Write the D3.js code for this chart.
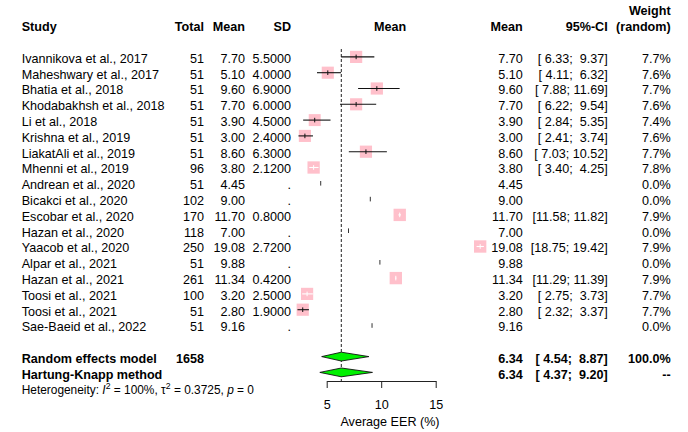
<!DOCTYPE html>
<html>
<head>
<meta charset="utf-8">
<script src="https://cdn.jsdelivr.net/npm/d3@7/dist/d3.min.js"></script>
<style>
  html, body { margin: 0; padding: 0; background: #fff; }
  svg text { font-family: "Liberation Sans", Arial, sans-serif; fill: #000; white-space: pre; }
</style>
</head>
<body>
<svg id="chart" width="688" height="432"></svg>
<script>
// Study-level data of the meta-analysis of average EER (%)
const studies = [
  "Ivannikova et al., 2017", "Maheshwary et al., 2017", "Bhatia et al., 2018",
  "Khodabakhsh et al., 2018", "Li et al., 2018", "Krishna et al., 2019",
  "LiakatAli et al., 2019", "Mhenni et al., 2019", "Andrean et al., 2020",
  "Bicakci et al., 2020", "Escobar et al., 2020", "Hazan et al., 2020",
  "Yaacob et al., 2020", "Alpar et al., 2021", "Hazan et al., 2021",
  "Toosi et al., 2021", "Toosi et al., 2021", "Sae-Baeid et al., 2022"
];
const totals = [51, 51, 51, 51, 51, 51, 51, 96, 51, 102, 170, 118, 250, 51, 261, 100, 51, 51];
const means = [7.70, 5.10, 9.60, 7.70, 3.90, 3.00, 8.60, 3.80, 4.45, 9.00, 11.70, 7.00, 19.08, 9.88, 11.34, 3.20, 2.80, 9.16];
const sds = [5.5, 4.0, 6.9, 6.0, 4.5, 2.4, 6.3, 2.12, null, null, 0.8, null, 2.72, null, 0.42, 2.5, 1.9, null];
const ciLower = [6.33, 4.11, 7.88, 6.22, 2.84, 2.41, 7.03, 3.40, null, null, 11.58, null, 18.75, null, 11.29, 2.75, 2.32, null];
const ciUpper = [9.37, 6.32, 11.69, 9.54, 5.35, 3.74, 10.52, 4.25, null, null, 11.82, null, 19.42, null, 11.39, 3.73, 3.37, null];
const weights = [7.7, 7.6, 7.7, 7.6, 7.4, 7.6, 7.7, 7.8, 0.0, 0.0, 7.9, 0.0, 7.9, 0.0, 7.9, 7.7, 7.7, 0.0];

// Pooled estimates
const summaryLabels = ["Random effects model", "Hartung-Knapp method"];
const summaryMean = [6.34, 6.34];
const summaryLower = [4.54, 4.37];
const summaryUpper = [8.87, 9.20];
const summaryWeight = ["100.0%", "--"];
const totalN = 1658;

const axisTicks = [5, 10, 15];
const axisLabel = "Average EER (%)";

const svg = d3.select("#chart");
const FS = 12.6;
const rowY = i => 58.2 + i * 15.8;      // vertical centre of a text row
const base = i => rowY(i) + 4.5;        // text baseline of a row
const markY = i => rowY(i) - 1.3;       // centre of the marks in a row

const x = d3.scaleLinear().domain([5, 15]).range([326.7, 435.7]);

// column anchors
const col = { study: 21.7, total: 204, mean: 245, sd: 291, rMean: 522.7, ci: 607.7, w: 670.7, plotHead: 390 };

function txt(xp, yp, s, anchor, bold, size) {
  return svg.append("text")
    .attr("x", xp).attr("y", yp)
    .attr("text-anchor", anchor || "start")
    .attr("font-size", size || FS)
    .attr("font-weight", bold ? "bold" : "normal")
    .text(s);
}

// headers
txt(col.study, base(-2), "Study", "start", true);
txt(col.total, base(-2), "Total", "end", true);
txt(col.mean, base(-2), "Mean", "end", true);
txt(col.sd, base(-2), "SD", "end", true);
txt(col.plotHead, base(-2), "Mean", "middle", true);
txt(col.rMean, base(-2), "Mean", "end", true);
txt(col.ci, base(-2), "95%-CI", "end", true);
txt(col.w, base(-3), "Weight", "end", true);
txt(col.w, base(-2), "(random)", "end", true);

const f2 = d3.format(".2f");
const fmtCI = (lo, hi) => {
  const pad = v => (v < 10 ? " " : "") + f2(v);
  return "[" + pad(lo) + "; " + pad(hi) + "]";
};

// reference line at the pooled mean
svg.append("line")
  .attr("x1", x(summaryMean[0])).attr("x2", x(summaryMean[0]))
  .attr("y1", 49).attr("y2", 381)
  .attr("stroke", "#222").attr("stroke-width", 1)
  .attr("stroke-dasharray", "3,2");

const boxSide = w => 12.2 * Math.sqrt(w / 7.7);

studies.forEach((name, i) => {
  txt(col.study, base(i), name);
  txt(col.total, base(i), String(totals[i]), "end");
  txt(col.mean, base(i), f2(means[i]), "end");
  txt(col.sd, base(i), sds[i] == null ? "." : d3.format(".4f")(sds[i]), "end");
  txt(col.rMean, base(i), f2(means[i]), "end");
  if (ciLower[i] != null) txt(col.ci, base(i), fmtCI(ciLower[i], ciUpper[i]), "end");
  txt(col.w, base(i), d3.format(".1f")(weights[i]) + "%", "end");

  const cx = x(means[i]), cy = markY(i);
  let inside = false;
  if (weights[i] > 0) {
    const s = boxSide(weights[i]);
    svg.append("rect")
      .attr("x", cx - s / 2).attr("y", cy - s / 2)
      .attr("width", s).attr("height", s)
      .attr("fill", "#FFC0CB");
    if (ciLower[i] != null) {
      inside = x(ciLower[i]) >= cx - s / 2 && x(ciUpper[i]) <= cx + s / 2;
    }
  }
  const lineCol = inside ? "#fff" : "#111";
  if (ciLower[i] != null) {
    svg.append("line")
      .attr("x1", x(ciLower[i])).attr("x2", x(ciUpper[i]))
      .attr("y1", cy).attr("y2", cy)
      .attr("stroke", lineCol).attr("stroke-width", 1.1);
  }
  svg.append("line")
    .attr("x1", cx).attr("x2", cx)
    .attr("y1", cy - 2.3).attr("y2", cy + 2.3)
    .attr("stroke", weights[i] > 0 ? lineCol : "#333").attr("stroke-width", 1);
});

// pooled rows
summaryLabels.forEach((lab, k) => {
  const i = 19 + k;
  txt(col.study, base(i), lab, "start", true);
  if (k === 0) txt(col.total, base(i), String(totalN), "end", true);
  txt(col.rMean, base(i), f2(summaryMean[k]), "end", true);
  txt(col.ci, base(i), fmtCI(summaryLower[k], summaryUpper[k]), "end", true);
  txt(col.w, base(i), summaryWeight[k], "end", true);
  const cy = rowY(i) - 1.8, h = 4.4;
  const pts = [[x(summaryLower[k]), cy], [x(summaryMean[k]), cy - h], [x(summaryUpper[k]), cy], [x(summaryMean[k]), cy + h]];
  svg.append("path")
    .attr("d", d3.line()(pts) + "Z")
    .attr("fill", "#00F000").attr("stroke", "#111").attr("stroke-width", 0.9);
});

// heterogeneity statement
const het = svg.append("text")
  .attr("x", col.study).attr("y", base(21) - 0.5)
  .attr("font-size", 11.9);
het.append("tspan").text("Heterogeneity: ");
het.append("tspan").attr("font-style", "italic").text("I");
het.append("tspan").attr("font-size", 8.7).attr("dy", -5).text("2");
het.append("tspan").attr("dy", 5).text(" = 100%, \u03C4");
het.append("tspan").attr("font-size", 8.7).attr("dy", -5).text("2");
het.append("tspan").attr("dy", 5).text(" = 0.3725, ");
het.append("tspan").attr("font-style", "italic").text("p");
het.append("tspan").text(" = 0");

// x axis
const axisG = svg.append("g")
  .attr("transform", "translate(0,381)")
  .call(d3.axisBottom(x).tickValues(axisTicks).tickSize(7).tickSizeOuter(0).tickPadding(12.5).tickFormat(d3.format("d")));
axisG.select(".domain").attr("stroke", "#222");
axisG.selectAll(".tick line").attr("stroke", "#222");
axisG.selectAll(".tick text")
  .attr("font-size", FS)
  .attr("font-family", "Liberation Sans, Arial, sans-serif")
  .attr("fill", "#000");

txt(390, 426, axisLabel, "middle");
</script>
</body>
</html>
